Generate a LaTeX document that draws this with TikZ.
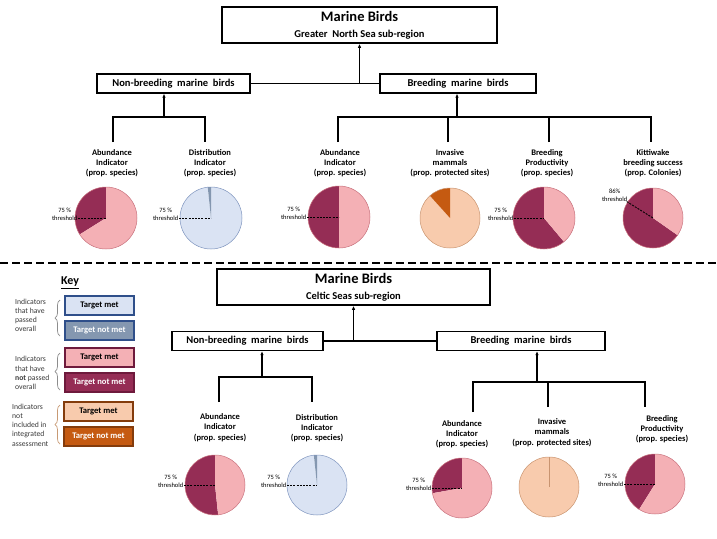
\documentclass[tikz,border=0pt]{standalone}
\usepackage{fontspec}
\setmainfont{Carlito}
\usetikzlibrary{arrows.meta,calc,decorations.pathreplacing}
\definecolor{cMar}{HTML}{952D55}
\definecolor{cMarDk}{HTML}{6E1A3C}
\definecolor{cPink}{HTML}{F4B0B5}
\definecolor{cPinkE}{HTML}{C9727E}
\definecolor{cLBlue}{HTML}{DAE3F3}
\definecolor{cSlate}{HTML}{8497B0}
\definecolor{cSlateE}{HTML}{7F95BF}
\definecolor{cBlueDk}{HTML}{2F4F8A}
\definecolor{cPeach}{HTML}{F8CBAD}
\definecolor{cPeachE}{HTML}{C99470}
\definecolor{cOrange}{HTML}{C55A11}
\definecolor{cBrown}{HTML}{843C0C}
\definecolor{cTxt}{HTML}{3A3A3A}
\definecolor{cBrace}{HTML}{8C8C8C}
\definecolor{cBraceO}{HTML}{C89A74}
\newcommand\pieslice[5]{\fill[#5] (#1) -- ++(#3:#2pt) arc[start angle=#3, end angle=#4, radius=#2pt] -- cycle;}
\newcommand\pierim[3]{\draw[#3, line width=0.5pt] (#1) circle[radius=#2pt];}
\tikzset{
  tbox/.style={draw, line width=1.6pt, fill=white, inner sep=0pt, align=center,
    font=\bfseries\fontsize{10.5}{16}\selectfont},
  hbox/.style={draw, line width=1.4pt, fill=white, inner sep=0pt,
    minimum height=19pt, font=\bfseries\fontsize{10.5}{12}\selectfont},
  lbl/.style={font=\bfseries\fontsize{8.5}{10.3}\selectfont, align=center, inner sep=0pt},
  thr/.style={font=\fontsize{6.5}{7.8}\selectfont, align=center, inner sep=0.5pt},
  thd/.style={line width=0.9pt, dash pattern=on 2pt off 1.2pt},
  conn/.style={line width=1.1pt},
  arr/.style={line width=1.1pt, -{Latex[length=4pt,width=3.5pt]}},
  kbox/.style={draw, line width=1.3pt, inner sep=0pt, minimum width=69pt,
    minimum height=19pt, font=\bfseries\fontsize{8.6}{10}\selectfont},
  ktxt/.style={font=\fontsize{7.7}{9.2}\selectfont, align=left, inner sep=0pt, text=cTxt, anchor=west},
  brc/.style={decorate, decoration={brace, amplitude=5pt}, line width=0.7pt}
}
\begin{document}
\begin{tikzpicture}[x=1pt,y=1pt]
\useasboundingbox (0,0) rectangle (717,-538);
\fill[white] (0,0) rectangle (717,-538);

% ================= TOP: Greater North Sea =================
\node[tbox, minimum width=275pt, minimum height=36pt] (T1) at (359.5,-25)
  {{\fontsize{14.5}{16}\selectfont Marine Birds}\\Greater\ \ North Sea sub-region};
\node[hbox, minimum width=153pt] (NB1) at (173.5,-83.5) {Non-breeding\ \ marine\ \ birds};
\node[hbox, minimum width=156pt] (B1) at (458,-83.5) {Breeding\ \ marine\ \ birds};
\draw[conn] (NB1.east) -- (B1.west);
\coordinate (j1) at (T1.south |- NB1.east);
\draw[arr] (j1) -- (T1.south);

\coordinate (bkNB1) at (164,-117);
\coordinate (bkB1) at (457,-117);
\draw[arr] (bkNB1) -- (bkNB1 |- NB1.south);
\draw[arr] (bkB1) -- (bkB1 |- B1.south);

\node[lbl] (L1) at (112,-163) {Abundance\\Indicator\\(prop. species)};
\node[lbl] (L2) at (210,-163) {Distribution\\Indicator\\(prop. species)};
\node[lbl] (L3) at (340,-163) {Abundance\\Indicator\\(prop. species)};
\node[lbl] (L4) at (450,-163) {Invasive\\mammals\\(prop. protected sites)};
\node[lbl] (L5) at (547,-163) {Breeding\\Productivity\\(prop. species)};
\node[lbl] (L6) at (653,-163) {Kittiwake\\breeding success\\(prop. Colonies)};

\coordinate (v1) at (113,-142);
\coordinate (v2) at (205,-142);
\coordinate (v3) at (338,-142);
\coordinate (v4) at (448,-142);
\coordinate (v5) at (549,-142);
\coordinate (v6) at (651,-142);
\draw[conn] (v1) |- (bkNB1) -| (v2);
\draw[conn] (v3) |- (bkB1) -| (v6);
\draw[conn] (v4) -- (v4 |- bkB1);
\draw[conn] (v5) -- (v5 |- bkB1);

% pies top
\coordinate (p1) at (106,-218);
\pieslice{p1}{31}{90}{212}{cMar}
\pieslice{p1}{31}{212}{450}{cPink}
\pierim{p1}{31}{cPinkE}
\node[thr, anchor=east] (t1) at (78,-214.5) {75 \%\\threshold};
\draw[thd] (t1.east |- p1) -- (p1);

\coordinate (p2) at (211,-218);
\pieslice{p2}{31}{96}{450}{cLBlue}
\pieslice{p2}{31}{90}{96}{cSlate}
\pierim{p2}{31}{cSlateE}
\node[thr, anchor=east] (t2) at (179,-214.5) {75 \%\\threshold};
\draw[thd] (t2.east |- p2) -- (p2);

\coordinate (p3) at (339,-217);
\pieslice{p3}{31}{90}{270}{cMar}
\pieslice{p3}{31}{270}{450}{cPink}
\pierim{p3}{31}{cPinkE}
\node[thr, anchor=east] (t3) at (307,-213.5) {75 \%\\threshold};
\draw[thd] (t3.east |- p3) -- (p3);

\coordinate (p4) at (450,-218);
\pieslice{p4}{30}{132}{450}{cPeach}
\pieslice{p4}{30}{90}{132}{cOrange}
\pierim{p4}{30}{cPeachE}

\coordinate (p5) at (544,-218);
\pieslice{p5}{31}{90}{310}{cMar}
\pieslice{p5}{31}{310}{450}{cPink}
\pierim{p5}{31}{cPinkE}
\node[thr, anchor=east] (t5) at (514,-214.5) {75 \%\\threshold};
\draw[thd] (t5.east |- p5) -- (p5);

\coordinate (p6) at (653,-218);
\pieslice{p6}{30}{90}{325}{cMar}
\pieslice{p6}{30}{325}{450}{cPink}
\pierim{p6}{30}{cPinkE}
\node[thr, anchor=east] (t6) at (628,-195.5) {86\%\\threshold};
\draw[thd] ($(p6)+(148:31pt)$) -- (p6);

% separator
\draw[line width=2.6pt, dash pattern=on 8pt off 4pt] (0,-263) -- (717,-263);

% ================= BOTTOM: Celtic Seas =================
\node[tbox, minimum width=273pt, minimum height=36pt] (T2) at (353.5,-287)
  {{\fontsize{14.5}{16}\selectfont Marine Birds}\\Celtic Seas sub-region};
\node[hbox, minimum width=151pt] (NB2) at (247.5,-341) {Non-breeding\ \ marine\ \ birds};
\node[hbox, minimum width=168pt] (B2) at (521,-341) {Breeding\ \ marine\ \ birds};
\draw[conn] (NB2.east) -- (B2.west);
\coordinate (j2) at (T2.south |- NB2.east);
\draw[arr] (j2) -- (T2.south);

\coordinate (bkNB2) at (262,-377);
\coordinate (bkB2) at (537,-382);
\draw[arr] (bkNB2) -- (bkNB2 |- NB2.south);
\draw[arr] (bkB2) -- (bkB2 |- B2.south);

\node[lbl] (BL1) at (220,-427.5) {Abundance\\Indicator\\(prop. species)};
\node[lbl] (BL2) at (317,-428) {Distribution\\Indicator\\(prop. species)};
\node[lbl] (BL3) at (462,-434) {Abundance\\Indicator\\(prop. species)};
\node[lbl] (BL4) at (552,-432.5) {Invasive\\mammals\\(prop. protected sites)};
\node[lbl] (BL5) at (662,-429) {Breeding\\Productivity\\(prop. species)};

\coordinate (w1) at (219,-402);
\coordinate (w2) at (312,-402);
\coordinate (w3) at (473,-412);
\coordinate (w4) at (548,-407);
\coordinate (w5) at (645,-407);
\draw[conn] (w1) |- (bkNB2) -| (w2);
\draw[conn] (w3) |- (bkB2) -| (w5);
\draw[conn] (w4) -- (w4 |- bkB2);

\coordinate (q1) at (215,-485);
\pieslice{q1}{30}{90}{276}{cMar}
\pieslice{q1}{30}{276}{450}{cPink}
\pierim{q1}{30}{cPinkE}
\node[thr, anchor=east] (s1) at (184,-481.5) {75 \%\\threshold};
\draw[thd] (s1.east |- q1) -- (q1);

\coordinate (q2) at (317,-485);
\pieslice{q2}{30}{96}{450}{cLBlue}
\pieslice{q2}{30}{90}{96}{cSlate}
\pierim{q2}{30}{cSlateE}
\node[thr, anchor=east] (s2) at (287,-481.5) {75 \%\\threshold};
\draw[thd] (s2.east |- q2) -- (q2);

\coordinate (q3) at (462,-488);
\pieslice{q3}{30}{90}{190}{cMar}
\pieslice{q3}{30}{190}{450}{cPink}
\pierim{q3}{30}{cPinkE}
\node[thr, anchor=east] (s3) at (432,-484.5) {75 \%\\threshold};
\draw[thd] (s3.east |- q3) -- (q3);

\coordinate (q4) at (549,-487);
\pieslice{q4}{30}{90}{450}{cPeach}
\pierim{q4}{30}{cPeachE}
\draw[cPeachE, line width=0.6pt] (q4) -- ++(90:30pt);

\coordinate (q5) at (655,-484);
\pieslice{q5}{30}{90}{238}{cMar}
\pieslice{q5}{30}{238}{450}{cPink}
\pierim{q5}{30}{cPinkE}
\node[thr, anchor=east] (s5) at (624,-480.5) {75 \%\\threshold};
\draw[thd] (s5.east |- q5) -- (q5);

% ================= KEY =================
\node[font=\bfseries\fontsize{12}{14}\selectfont, inner sep=0pt] (key) at (70,-283) {\underline{Key}};
\node[kbox, fill=cLBlue, draw=cBlueDk] (k1) at (99.5,-305.5) {Target met};
\node[kbox, fill=cSlate, draw=cBlueDk, text=white] (k2) at (99.5,-330.5) {Target not met};
\node[kbox, fill=cPink, draw=cMarDk] (k3) at (99.5,-357.5) {Target met};
\node[kbox, fill=cMar, draw=cMarDk, text=white] (k4) at (99.5,-382.5) {Target not met};
\node[kbox, fill=cPeach, draw=cBrown] (k5) at (98.5,-411.5) {Target met};
\node[kbox, fill=cOrange, draw=cBrown, text=white] (k6) at (98.5,-436.5) {Target not met};

\node[ktxt] (g1) at (15,-315.5) {Indicators\\that have\\passed\\overall};
\node[ktxt] (g2) at (15,-373) {Indicators\\that have\\\textbf{not} passed\\overall};
\node[ktxt] (g3) at (12,-425) {Indicators\\not\\included in\\integrated\\assessment};

\draw[brc, cBrace] (60,-336) -- (60,-300);
\draw[brc, cBrace] (60,-390) -- (60,-353);
\draw[brc, cBraceO] (60,-444) -- (60,-405);
\end{tikzpicture}
\end{document}
